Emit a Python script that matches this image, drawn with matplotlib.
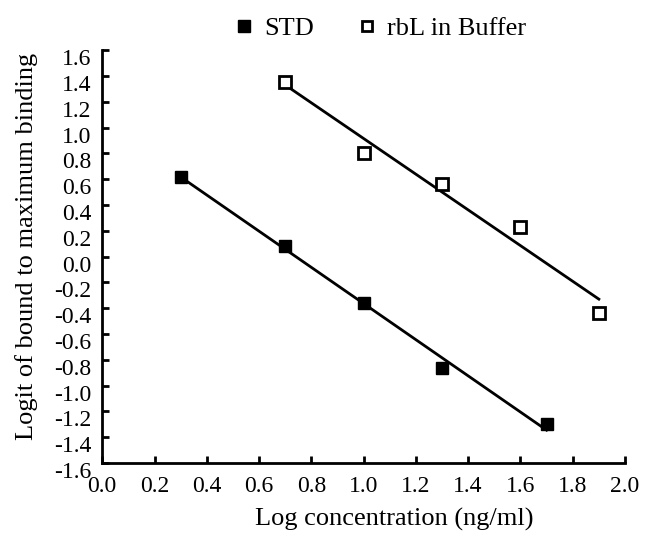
import matplotlib
matplotlib.use("Agg")
import matplotlib.pyplot as plt
import matplotlib.transforms as mtransforms
import numpy as np

plt.rcParams['font.family'] = ['Liberation Serif', 'DejaVu Serif']

# log concentration (ng/ml) and logit values
std_x = [0.3, 0.7, 1.0, 1.3, 1.7]
std_y = [0.62, 0.08, -0.36, -0.86, -1.30]
rbl_x = [0.7, 1.0, 1.3, 1.6, 1.9]
rbl_y = [1.35, 0.80, 0.56, 0.23, -0.44]

xticks = np.arange(0, 2.01, 0.2)
yticks = np.arange(-1.6, 1.61, 0.2)

fig = plt.figure(figsize=(6.47, 5.39), dpi=100)
ax = fig.add_axes([0.158, 0.141, 0.808, 0.766])

# fitted lines
for xs, ys in [(std_x, std_y), (rbl_x, rbl_y)]:
    k, b = np.polyfit(xs, ys, 1)
    xx = np.array([min(xs), max(xs)])
    ax.plot(xx, k * xx + b, color='black', lw=2, zorder=2)

ax.plot(std_x, std_y, 's', color='black', ms=9, ls='none', zorder=3, label='STD')
ax.plot(rbl_x, rbl_y, 's', mfc='white', mec='black', mew=2, ms=8, ls='none',
        zorder=3, label='rbL in Buffer')

ax.set_xlim(0, 2.0)
ax.set_ylim(-1.6, 1.6)
ax.set_xticks(xticks)
ax.set_yticks(yticks)
ax.set_xticklabels(['%.1f' % v for v in xticks])
ax.set_yticklabels(['%.1f' % (0.0 if abs(v) < 1e-9 else v) for v in yticks])
ax.tick_params(direction='in', length=5, width=2, labelsize=17)
ax.tick_params(axis='x', pad=9)
ax.tick_params(axis='y', pad=8)

# y tick labels sit a little below their ticks in the original
shift = mtransforms.ScaledTranslation(0, -7 / 100, fig.dpi_scale_trans)
for lab in ax.get_yticklabels():
    lab.set_transform(lab.get_transform() + shift)

for s in ['top', 'right']:
    ax.spines[s].set_visible(False)
for s in ['left', 'bottom']:
    ax.spines[s].set_linewidth(2)

fig.text(0.609, 0.037, 'Log concentration (ng/ml)', fontsize=19,
         ha='center', va='center')
fig.text(0.041, 0.542, 'Logit of bound to maximum binding', fontsize=19,
         ha='center', va='center', rotation=90)

fig.legend(loc='center', bbox_to_anchor=(0.587, 0.948), ncol=2, frameon=False,
           fontsize=19, handletextpad=0.36, columnspacing=1.6, handlelength=0.8,
           markerscale=0.9, borderpad=0)

fig.savefig('out.png', dpi=100)
